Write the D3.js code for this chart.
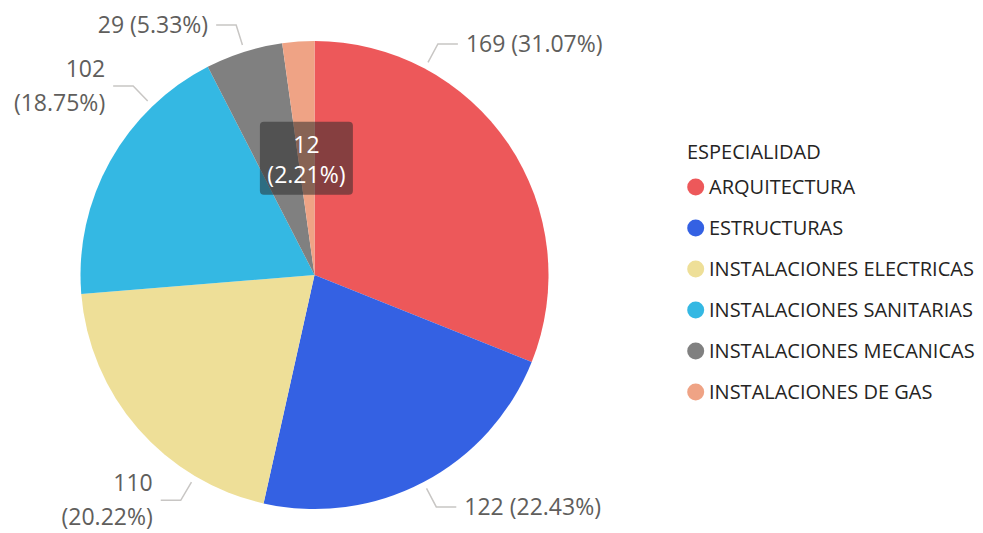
<!DOCTYPE html>
<html>
<head>
<meta charset="utf-8">
<script src="https://cdn.jsdelivr.net/npm/d3@7"></script>
<style>
  body { margin: 0; background: #fff; }
  svg { display: block; font-family: "Open Sans", "Noto Sans", sans-serif; }
</style>
</head>
<body>
<div id="chart"></div>
<script>
(function(){
var width = 983,
	height = 533;

// data
var categories = ["ARQUITECTURA", "ESTRUCTURAS", "INSTALACIONES ELECTRICAS", "INSTALACIONES SANITARIAS", "INSTALACIONES MECANICAS", "INSTALACIONES DE GAS"];
var values = [169, 122, 110, 102, 29, 12];
var colors = ["#ED585A", "#3461E3", "#EEDF98", "#34B8E3", "#808080", "#EFA385"];
var legendTitle = "ESPECIALIDAD";

// layout of the outside labels (leader angle in degrees, wrapped onto two lines or not)
var labelAngle = [28.1, 152.3, 210.7, 316.2, 342.6, null];
var labelWrap = [false, false, true, true, false, false];

var cx = 314.5, cy = 275, r = 234;
var total = d3.sum(values);
var pct = d3.format(".2%");

var svg = d3.select("#chart").append("svg")
	.attr("width", width)
	.attr("height", height);

var color = d3.scaleOrdinal().domain(categories).range(colors);

var pie = d3.pie().sort(null).value(function(d){ return d.value; });
var arc = d3.arc().innerRadius(0).outerRadius(r);

var data = categories.map(function(c,i){ return {cat:c, value:values[i], i:i}; });
var arcs = pie(data);

var g = svg.append("g").attr("transform", "translate(" + cx + "," + cy + ")");

g.selectAll(".slice").data(arcs).enter().append("path")
	.attr("class", "slice")
	.attr("d", arc)
	.attr("fill", function(d){ return color(d.data.cat); });

// outside labels with leader lines
var outside = arcs.filter(function(d){ return labelAngle[d.data.i] != null; });

function polar(deg, rad){
	var a = deg * Math.PI / 180;
	return [rad * Math.sin(a), -rad * Math.cos(a)];
}

outside.forEach(function(d){
	var deg = labelAngle[d.data.i];
	var p0 = polar(deg, r + 7),
		p1 = polar(deg, r + 28);
	var right = p1[0] > 0;
	var p2 = [p1[0] + (right ? 20 : -20), p1[1]];

	g.append("polyline")
		.attr("points", [p0, p1, p2].map(function(p){ return p.join(","); }).join(" "))
		.attr("fill", "none")
		.attr("stroke", "#c8c6c4")
		.attr("stroke-width", 1.5);

	var txt = g.append("text")
		.attr("x", p2[0] + (right ? 8 : -8))
		.attr("text-anchor", right ? "start" : "end")
		.attr("fill", "#605E5C")
		.attr("font-size", 23);

	var v = d.data.value, s = "(" + pct(v / total) + ")";
	if (labelWrap[d.data.i]) {
		txt.append("tspan").attr("x", p2[0] - 8).attr("y", p2[1] - 17).attr("dy", "0.35em").text(v);
		txt.append("tspan").attr("x", p2[0] - 8).attr("y", p2[1] + 17).attr("dy", "0.35em").text(s);
	} else {
		txt.attr("y", p2[1]).attr("dy", "0.35em").text(v + " " + s);
	}
});

// inside label for the smallest slice
var small = arcs.filter(function(d){ return labelAngle[d.data.i] == null; });
small.forEach(function(d){
	var c = arc.centroid(d);
	var lb = g.append("g").attr("transform", "translate(" + c[0] + "," + c[1] + ")");
	lb.append("rect")
		.attr("x", -46.5).attr("y", -36.5)
		.attr("width", 93).attr("height", 73)
		.attr("rx", 4)
		.attr("fill", "rgba(40,40,40,0.52)");
	var t = lb.append("text")
		.attr("text-anchor", "middle")
		.attr("fill", "#fff")
		.attr("font-size", 23);
	t.append("tspan").attr("x", 0).attr("y", -13).attr("dy", "0.35em").text(d.data.value);
	t.append("tspan").attr("x", 0).attr("y", 17).attr("dy", "0.35em").text("(" + pct(d.data.value / total) + ")");
});

// legend
var lg = svg.append("g").attr("transform", "translate(687,0)");
lg.append("text")
	.attr("x", 0).attr("y", 152).attr("dy", "0.35em")
	.attr("fill", "#252423")
	.attr("font-size", 20)
	.text(legendTitle);

var y = d3.scalePoint().domain(categories).range([187, 392]);

var items = lg.selectAll(".item").data(categories).enter().append("g")
	.attr("class", "item")
	.attr("transform", function(d){ return "translate(0," + y(d) + ")"; });

items.append("circle")
	.attr("cx", 8.7).attr("cy", 0).attr("r", 8.5)
	.attr("fill", function(d){ return color(d); });

items.append("text")
	.attr("x", 22).attr("y", 0).attr("dy", "0.35em")
	.attr("fill", "#252423")
	.attr("font-size", 20)
	.text(function(d){ return d; });

})()
</script>
</body>
</html>
